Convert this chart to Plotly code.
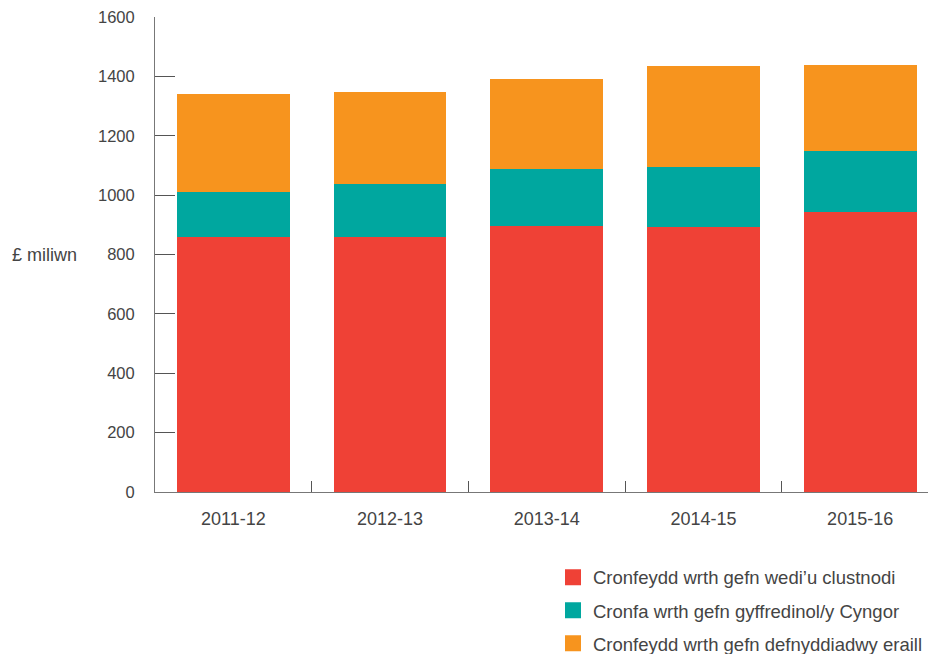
import plotly.graph_objects as go

years = ["2011-12", "2012-13", "2013-14", "2014-15", "2015-16"]
series_names = [
    "Cronfeydd wrth gefn wedi’u clustnodi",
    "Cronfa wrth gefn gyffredinol/y Cyngor",
    "Cronfeydd wrth gefn defnyddiadwy eraill",
]
earmarked = [859, 859, 897, 893, 943]
general = [151, 178, 191, 202, 206]
other = [330, 310, 303, 340, 289]
colors = ["#EF4136", "#00A79F", "#F7941E"]
y_ticks = [0, 200, 400, 600, 800, 1000, 1200, 1400, 1600]

# page body has an 8px margin; figure sized to fill the rest of the window
W, H = 928, 646
L, R, T, B = 147, 0, 9, 162
pw = W - L - R
ph = H - T - B

fig = go.Figure()
for name, vals, col in zip(series_names, [earmarked, general, other], colors):
    fig.add_trace(go.Bar(x=years, y=vals, name=name, marker_color=col,
                         marker_line_width=0, showlegend=False))
for i, (name, col) in enumerate(zip(series_names, colors)):
    fig.add_trace(go.Scatter(x=[years[0]], y=[None], mode="markers", name=name,
                             legendgroup=f"g{i}",
                             marker=dict(symbol="square", size=20, color=col)))

font_col = "#444444"
fig.update_layout(
    width=W, height=H,
    margin=dict(l=L, r=R, t=T, b=B, pad=0, autoexpand=False),
    barmode="stack", bargap=0.28,
    plot_bgcolor="white", paper_bgcolor="white",
    font=dict(family="Liberation Sans, Arial, sans-serif", size=16, color=font_col),
    showlegend=True,
    legend=dict(orientation="v", traceorder="grouped", tracegroupgap=6,
                x=(545 - L) / pw, xanchor="left", y=-0.1405, yanchor="top",
                yref="paper", font=dict(size=18.5, color=font_col),
                bgcolor="rgba(0,0,0,0)", borderwidth=0),
    xaxis=dict(type="category", range=[-0.5, -0.5 + pw / 156.7], showline=True,
               linecolor="#777777", linewidth=1, ticks="inside", tickson="boundaries",
               ticklen=11, tickcolor="#555555", showgrid=False, zeroline=False,
               ticklabelstandoff=10, tickfont=dict(size=18), automargin=False),
    yaxis=dict(range=[0, 1600.3], tickvals=y_ticks, showline=True, linecolor="#777777",
               linewidth=1, ticks="inside", ticklen=20, tickcolor="#555555",
               showgrid=False, zeroline=False, ticklabelstandoff=16,
               ticklabeloverflow="allow",
               tickfont=dict(size=16.5), automargin=False),
    annotations=[dict(text="£ miliwn", xref="paper", yref="y",
                      x=(2 - L) / pw, y=800, xanchor="left", yanchor="middle",
                      showarrow=False, font=dict(size=18, color=font_col))],
)

fig.write_html("out.html")
